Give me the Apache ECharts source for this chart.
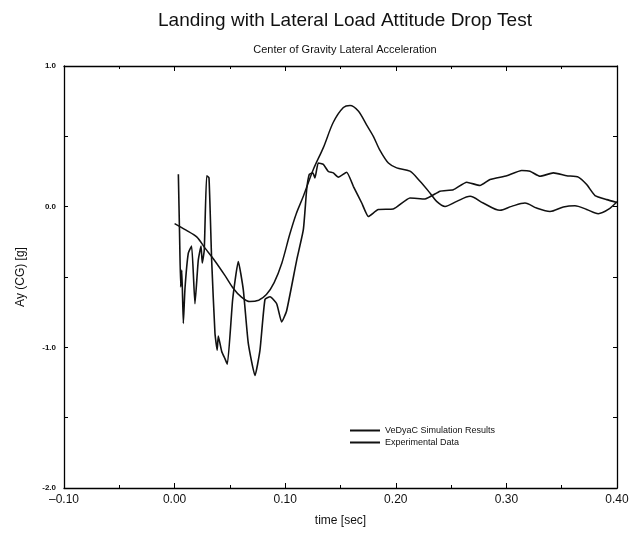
<!DOCTYPE html>
<html><head><meta charset="utf-8">
<script src="https://cdn.jsdelivr.net/npm/echarts@6/dist/echarts.min.js"></script>
<style>html,body{margin:0;padding:0;background:#fff}#c{width:638px;height:538px}</style>
</head><body><div id="c"></div>
<script>
const titleText = "Landing with Lateral Load Attitude Drop Test";
const subtitleText = "Center of Gravity Lateral Acceleration";
const xName = "time [sec]";
const yName = "Ay (CG) [g]";
const seriesNames = ["VeDyaC Simulation Results", "Experimental Data"];

const simTime = [0.0,0.01,0.02,0.0275,0.035,0.0456,0.053,0.06,0.068,0.076,0.083,0.09,0.097,0.104,0.11,0.1164,0.1254,0.1345,0.1435,0.1526,0.1586,0.1661,0.1737,0.1797,0.1857,0.1933,0.2008,0.2128,0.2219,0.2309,0.2369,0.2445,0.2551,0.2671,0.279,0.2942,0.3047,0.3168,0.3273,0.3394,0.3515,0.362,0.3726,0.3831,0.3921,0.4];
const simAy = [-0.12,-0.165,-0.215,-0.295,-0.37,-0.49,-0.58,-0.64,-0.675,-0.665,-0.625,-0.54,-0.40,-0.2,-0.05,0.074,0.264,0.42,0.60,0.705,0.72,0.68,0.58,0.5,0.40,0.31,0.276,0.252,0.18,0.097,0.038,0.002,0.038,0.074,0.026,-0.026,0.002,0.026,-0.01,-0.034,-0.002,0.007,-0.02,-0.05,-0.02,0.035];

const expTime = [0.0034,0.0045,0.0055,0.0065,0.0079,0.0094,0.0124,0.0154,0.0184,0.0214,0.0239,0.025,0.0268,0.029,0.0311,0.0335,0.0365,0.0385,0.0395,0.0426,0.0455,0.0477,0.0525,0.0576,0.0621,0.0666,0.0727,0.0772,0.0817,0.0863,0.0923,0.0968,0.1013,0.1104,0.1164,0.1194,0.1218,0.1249,0.1269,0.1299,0.1345,0.139,0.1435,0.148,0.1556,0.1616,0.1692,0.1752,0.1842,0.1977,0.2128,0.2264,0.24,0.252,0.2641,0.2761,0.2852,0.3003,0.3138,0.3213,0.3304,0.3424,0.3545,0.365,0.3726,0.3801,0.3907,0.4];
const expAy = [0.23,-0.2,-0.57,-0.45,-0.83,-0.58,-0.33,-0.28,-0.69,-0.38,-0.28,-0.40,-0.31,0.22,0.205,-0.38,-0.90,-1.02,-0.92,-1.03,-1.08,-1.12,-0.66,-0.39,-0.59,-0.97,-1.2,-1.02,-0.66,-0.64,-0.69,-0.82,-0.74,-0.38,-0.164,0.12,0.23,0.24,0.205,0.31,0.30,0.25,0.24,0.21,0.245,0.145,0.026,-0.07,-0.02,-0.017,0.062,0.055,0.11,0.12,0.174,0.15,0.193,0.22,0.257,0.252,0.216,0.24,0.22,0.21,0.157,0.079,0.05,0.03];

const xTicks = {min:-0.1, max:0.4, interval:0.1};
const yTicks = {min:-2, max:1, interval:1};

const zip = (a,b)=>a.map((v,i)=>[v,b[i]]);
const font = "'Liberation Sans', Arial, sans-serif";
const chart = echarts.init(document.getElementById('c'));
const axisLine = {show:true, onZero:false, lineStyle:{color:'#000', width:1.3}};
chart.setOption({
  animation:false,
  backgroundColor:'#fff',
  title:[
    {text:titleText, left:340, top:6, textAlign:'center', textStyle:{fontFamily:font, fontSize:19, fontWeight:'normal', color:'#111'}},
    {text:subtitleText, left:340, top:39, textAlign:'center', textStyle:{fontFamily:font, fontSize:11, fontWeight:'normal', color:'#111'}}
  ],
  grid:{left:64, right:21, top:66, bottom:50},
  legend:{
    orient:'vertical', left:345, top:421, itemWidth:30, itemHeight:2, itemGap:3,
    icon:'rect',
    textStyle:{fontFamily:font, fontSize:9, color:'#111'},
    data:seriesNames
  },
  xAxis:[
    {type:'value', min:xTicks.min, max:xTicks.max, interval:xTicks.interval,
     name:xName, nameLocation:'middle', nameGap:27, nameTextStyle:{fontFamily:font, fontSize:12, color:'#111'},
     axisLine, axisTick:{inside:true, length:5, lineStyle:{color:'#000'}},
     minorTick:{show:true, splitNumber:2, length:3, lineStyle:{color:'#000'}},
     splitLine:{show:false},
     axisLabel:{fontFamily:font, fontSize:12, color:'#111', margin:6, formatter:v=>(v<0?'\u2013':'')+Math.abs(v).toFixed(2)}},
    {type:'value', position:'top', min:xTicks.min, max:xTicks.max, interval:xTicks.interval,
     axisLine, axisTick:{inside:true, length:5, lineStyle:{color:'#000'}},
     minorTick:{show:true, splitNumber:2, length:3, lineStyle:{color:'#000'}},
     splitLine:{show:false}, axisLabel:{show:false}}
  ],
  yAxis:[
    {type:'value', min:yTicks.min, max:yTicks.max, interval:yTicks.interval,
     name:yName, nameLocation:'middle', nameGap:37, nameTextStyle:{fontFamily:font, fontSize:12, color:'#111'},
     axisLine, axisTick:{inside:true, length:4, lineStyle:{color:'#000'}},
     minorTick:{show:true, splitNumber:2, length:4, lineStyle:{color:'#000'}},
     splitLine:{show:false},
     axisLabel:{fontFamily:font, fontSize:8, fontWeight:'bold', color:'#111', margin:8, formatter:v=>v.toFixed(1)}},
    {type:'value', position:'right', min:yTicks.min, max:yTicks.max, interval:yTicks.interval,
     axisLine, axisTick:{inside:true, length:4, lineStyle:{color:'#000'}},
     minorTick:{show:true, splitNumber:2, length:4, lineStyle:{color:'#000'}},
     splitLine:{show:false}, axisLabel:{show:false}}
  ],
  series:[
    {name:seriesNames[0], type:'line', data:zip(simTime, simAy), showSymbol:false, symbol:'none', smooth:0.3,
     lineStyle:{color:'#111', width:1.5}, itemStyle:{color:'#111'}},
    {name:seriesNames[1], type:'line', data:zip(expTime, expAy), showSymbol:false, symbol:'none', smooth:0.15,
     lineStyle:{color:'#111', width:1.6}, itemStyle:{color:'#111'}}
  ]
});
</script></body></html>
